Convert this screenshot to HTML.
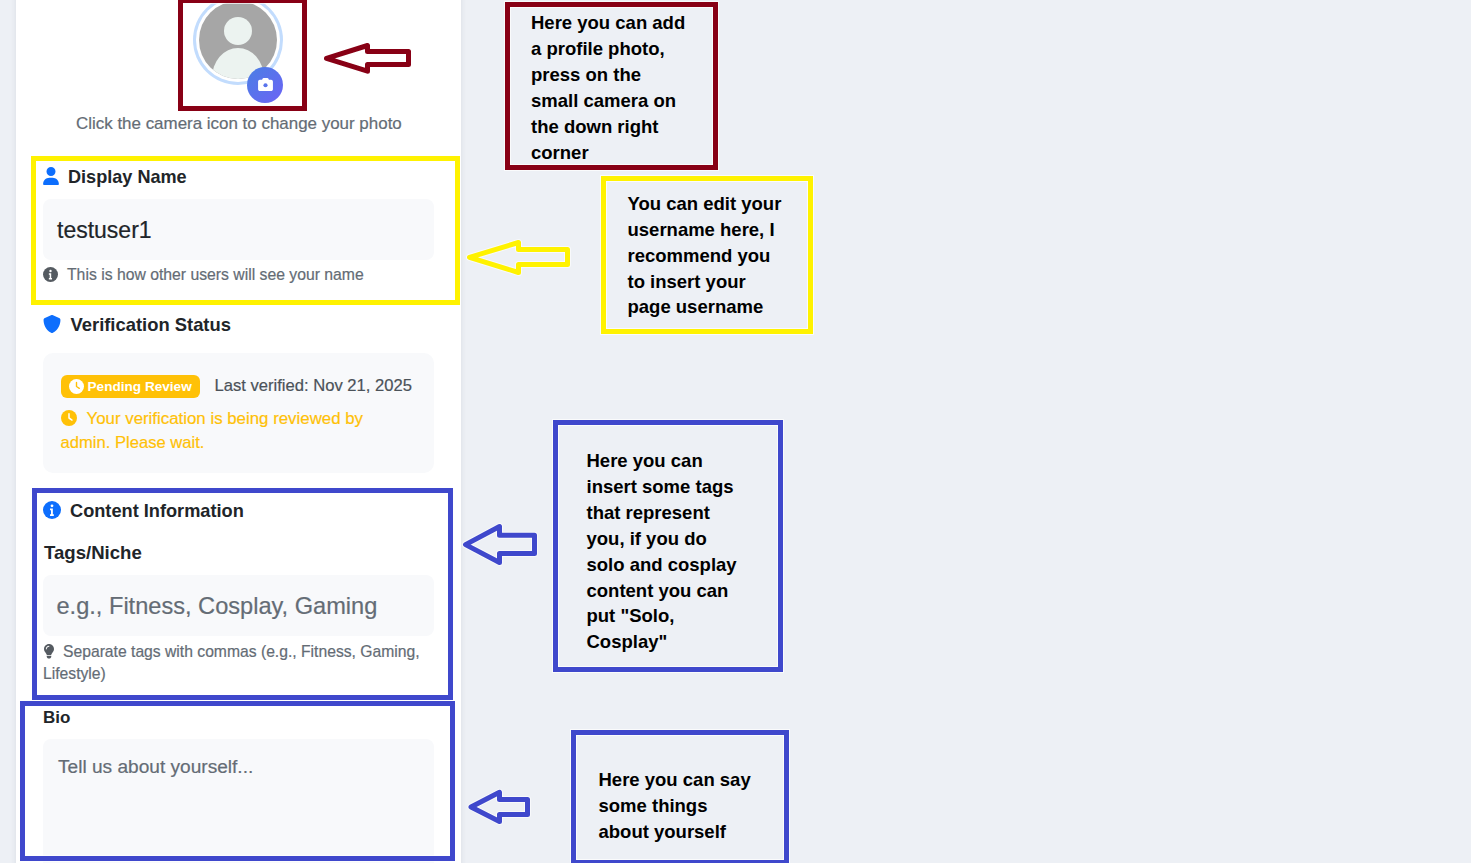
<!DOCTYPE html>
<html><head><meta charset="utf-8">
<style>
*{margin:0;padding:0;box-sizing:border-box}
html,body{width:1471px;height:863px;overflow:hidden}
body{background:#edf0f5;font-family:"Liberation Sans",sans-serif;position:relative}
.abs{position:absolute}
.t{position:absolute;white-space:nowrap;line-height:1em;-webkit-text-stroke:0.2px currentColor}
.card{position:absolute;left:16px;top:-20px;width:445px;height:920px;background:#fff;box-shadow:0 0 6px rgba(30,40,60,.09)}
.inp{position:absolute;left:43px;width:391px;background:#f8f9fb;border-radius:8px}
.ann{position:absolute;border:5px solid;box-shadow:0 0 0 1px rgba(255,255,255,.7), inset 0 0 0 1px rgba(255,255,255,.7)}
.ann.red{border-color:#880015}
.ann.yel{border-color:#fff200}
.ann.blu{border-color:#3f48cc}
.note{position:absolute;white-space:nowrap;font-weight:bold;-webkit-text-stroke:0;color:#000;font-size:18.5px;line-height:25.9px}
h3{font-weight:bold}
</style></head>
<body>
<div class="card"></div>

<!-- avatar -->
<div class="abs" style="left:193px;top:-5px;width:90px;height:90px;border-radius:50%;background:#c2dcfd"></div>
<div class="abs" style="left:196px;top:-2px;width:84px;height:84px;border-radius:50%;background:#fff"></div>
<div class="abs" style="left:199px;top:1px;width:78px;height:78px;border-radius:50%;background:#a6a6a6;overflow:hidden">
  <div class="abs" style="left:25px;top:16px;width:28px;height:28px;border-radius:50%;background:#ecf3f0"></div>
  <div class="abs" style="left:13px;top:47px;width:52px;height:60px;border-radius:50%;background:#ecf3f0"></div>
</div>
<div class="abs" style="left:247px;top:67px;width:36px;height:36px;border-radius:50%;background:linear-gradient(135deg,#4a7fe4,#6c63f5)"></div>
<svg class="abs" style="left:258px;top:78px" width="15" height="13" viewBox="0 0 512 448">
  <path fill="#fff" d="M149.1 32.8L138.7 64H64C28.7 64 0 92.7 0 128V384c0 35.3 28.7 64 64 64H448c35.3 0 64-28.7 64-64V128c0-35.3-28.7-64-64-64H373.3L362.9 32.8C356.4 13.2 338.1 0 317.4 0H194.6c-20.7 0-39 13.2-45.5 32.8z"/>
  <circle cx="256" cy="250" r="72" fill="#5873ec"/>
</svg>

<div class="t" style="left:76px;top:115.8px;font-size:16.95px;color:#646c75">Click the camera icon to change your photo</div>

<!-- Display name -->
<svg class="abs" style="left:43px;top:167px" width="16" height="18" viewBox="0 0 448 512"><path fill="#0d6efd" d="M224 256A128 128 0 1 0 224 0a128 128 0 1 0 0 256zm-45.7 48C79.8 304 0 383.8 0 482.3C0 498.7 13.3 512 29.7 512H418.3c16.4 0 29.7-13.3 29.7-29.7C448 383.8 368.2 304 269.7 304H178.3z"/></svg>
<div class="t" style="left:68px;top:167.7px;font-size:18.1px;font-weight:bold;-webkit-text-stroke:0;color:#212529">Display Name</div>
<div class="inp" style="top:199px;height:61px"></div>
<div class="t" style="left:57px;top:218.8px;font-size:23px;color:#212529">testuser1</div>
<svg class="abs" style="left:43px;top:267px" width="15" height="15" viewBox="0 0 512 512"><circle cx="256" cy="256" r="256" fill="#555b61"/><path fill="#fff" d="M256 96a40 40 0 1 1 0 80a40 40 0 1 1 0-80zM200 216h80v160h28v48H200v-48h28V264h-28z"/></svg>
<div class="t" style="left:67px;top:267.3px;font-size:15.75px;color:#646c75">This is how other users will see your name</div>

<!-- Verification -->
<svg class="abs" style="left:43px;top:315px" width="18" height="18" viewBox="0 0 512 512"><path fill="#0d6efd" d="M256 0c4.6 0 9.2 1 13.4 2.9L457.7 82.8c22 9.3 38.4 31 38.3 57.2c-.5 99.2-41.3 280.7-213.6 363.2c-16.7 8-36.1 8-52.8 0C57.3 420.7 16.5 239.2 16 140c-.1-26.2 16.3-47.9 38.3-57.2L242.7 2.9C246.8 1 251.4 0 256 0z"/></svg>
<div class="t" style="left:70.5px;top:316.1px;font-size:18.4px;font-weight:bold;-webkit-text-stroke:0;color:#212529">Verification Status</div>
<div class="inp" style="top:353px;height:120px;border-radius:10px"></div>
<div class="abs" style="left:61px;top:375px;width:139px;height:23px;background:#ffc107;border-radius:6px"></div>
<svg class="abs" style="left:69px;top:378.5px" width="15" height="15" viewBox="0 0 512 512"><circle cx="256" cy="256" r="256" fill="#fff"/><path fill="#ffc107" d="M232 120V256c0 8 4 15.5 10.7 20l96 64c11 7.4 25.9 4.4 33.3-6.7s4.4-25.9-6.7-33.3L280 243.2V120c0-13.3-10.7-24-24-24s-24 10.7-24 24z"/></svg>
<div class="t" style="left:87.5px;top:379.5px;font-size:13.6px;font-weight:bold;-webkit-text-stroke:0;color:#fff">Pending Review</div>
<div class="t" style="left:214.5px;top:378px;font-size:16.6px;color:#4b5259">Last verified: Nov 21, 2025</div>
<svg class="abs" style="left:61px;top:410px" width="16" height="16" viewBox="0 0 512 512"><circle cx="256" cy="256" r="256" fill="#ffc107"/><path fill="#fff" d="M232 120V256c0 8 4 15.5 10.7 20l96 64c11 7.4 25.9 4.4 33.3-6.7s4.4-25.9-6.7-33.3L280 243.2V120c0-13.3-10.7-24-24-24s-24 10.7-24 24z"/></svg>
<div class="t" style="left:86.5px;top:410.8px;font-size:16.85px;color:#ffc107">Your verification is being reviewed by</div>
<div class="t" style="left:60.5px;top:434.5px;font-size:16.6px;color:#ffc107">admin. Please wait.</div>

<!-- Content info -->
<svg class="abs" style="left:43px;top:501px" width="18" height="18" viewBox="0 0 512 512"><circle cx="256" cy="256" r="256" fill="#0d6efd"/><path fill="#fff" d="M256 96a40 40 0 1 1 0 80a40 40 0 1 1 0-80zM200 216h80v160h28v48H200v-48h28V264h-28z"/></svg>
<div class="t" style="left:70px;top:501.6px;font-size:18.2px;font-weight:bold;-webkit-text-stroke:0;color:#212529">Content Information</div>
<div class="t" style="left:44px;top:543.5px;font-size:18.6px;font-weight:bold;-webkit-text-stroke:0;color:#212529">Tags/Niche</div>
<div class="inp" style="top:575px;height:61px"></div>
<div class="t" style="left:56.5px;top:594.9px;font-size:23.6px;color:#646c75">e.g., Fitness, Cosplay, Gaming</div>
<svg class="abs" style="left:43.5px;top:644.4px" width="10" height="14.5" viewBox="0 0 352 512"><path fill="#555b61" d="M96.06 454.35c.01 6.29 1.87 12.45 5.36 17.69l17.09 25.69a31.99 31.99 0 0 0 26.64 14.28h61.71a31.99 31.99 0 0 0 26.64-14.28l17.09-25.69a31.989 31.989 0 0 0 5.36-17.69l.04-38.35H96.01l.05 38.35zM0 176c0 44.37 16.45 84.85 43.56 115.78 16.52 18.85 42.36 58.23 52.21 91.45.04.26.07.52.11.78h160.24c.04-.26.07-.51.11-.78 9.85-33.22 35.69-72.6 52.21-91.45C335.55 260.85 352 220.37 352 176 352 78.61 272.91-.3 175.45 0 73.44.31 0 82.97 0 176zm176-80c-44.11 0-80 35.89-80 80 0 8.84-7.16 16-16 16s-16-7.16-16-16c0-61.76 50.24-112 112-112 8.84 0 16 7.16 16 16s-7.16 16-16 16z"/></svg>
<div class="t" style="left:63px;top:643.8px;font-size:15.7px;color:#646c75">Separate tags with commas (e.g., Fitness, Gaming,</div>
<div class="t" style="left:43px;top:666px;font-size:15.7px;color:#646c75">Lifestyle)</div>

<!-- Bio -->
<div class="t" style="left:43px;top:709.3px;font-size:17px;font-weight:bold;-webkit-text-stroke:0;color:#212529">Bio</div>
<div class="inp" style="top:739px;height:160px"></div>
<div class="t" style="left:58px;top:756.8px;font-size:19.1px;color:#646c75">Tell us about yourself...</div>

<!-- annotation boxes -->
<div class="ann red" style="left:178px;top:-2px;width:129px;height:113px"></div>
<div class="ann red" style="left:505px;top:2px;width:213px;height:168px"></div>
<div class="ann yel" style="left:31px;top:156px;width:429px;height:149px"></div>
<div class="ann yel" style="left:601px;top:176px;width:212px;height:158px"></div>
<div class="ann blu" style="left:32px;top:488px;width:421px;height:212px"></div>
<div class="ann blu" style="left:20px;top:701px;width:435px;height:160px"></div>
<div class="ann blu" style="left:553px;top:420px;width:230px;height:252px"></div>
<div class="ann blu" style="left:571px;top:730px;width:218px;height:135px"></div>

<!-- arrows -->
<svg class="abs" style="left:0;top:0" width="1471" height="863">
  <g fill="none" stroke-width="7" stroke-linejoin="round" stroke="#fff" stroke-opacity=".6">
    <path d="M465.5 544.6L499.5 526.5V535.3H534.5V553.5H499.5V562.5Z"/>
    <path d="M471 806.9L499.5 792.3V799.5H527.5V814.5H499.5V821.5Z"/>
    <path d="M469.5 257.3L518.5 242.5V249.5H567.5V264.5H518.5V272.5Z"/>
  </g>
  <g fill="none" stroke-width="5" stroke-linejoin="round">
    <path stroke="#880015" d="M326.5 58.3L367.5 45.5V51.4H408.5V64.5H367.5V71.2Z"/>
    <path stroke="#fff200" d="M469.5 257.3L518.5 242.5V249.5H567.5V264.5H518.5V272.5Z"/>
    <path stroke="#3f48cc" d="M465.5 544.6L499.5 526.5V535.3H534.5V553.5H499.5V562.5Z"/>
    <path stroke="#3f48cc" d="M471 806.9L499.5 792.3V799.5H527.5V814.5H499.5V821.5Z"/>
  </g>
</svg>

<!-- notes -->
<div class="note" style="left:531px;top:10px">Here you can add<br>a profile photo,<br>press on the<br>small camera on<br>the down right<br>corner</div>
<div class="note" style="left:627.5px;top:190.8px">You can edit your<br>username here, I<br>recommend you<br>to insert your<br>page username</div>
<div class="note" style="left:586.5px;top:448px">Here you can<br>insert some tags<br>that represent<br>you, if you do<br>solo and cosplay<br>content you can<br>put "Solo,<br>Cosplay"</div>
<div class="note" style="left:598.5px;top:767.3px">Here you can say<br>some things<br>about yourself</div>
</body></html>
